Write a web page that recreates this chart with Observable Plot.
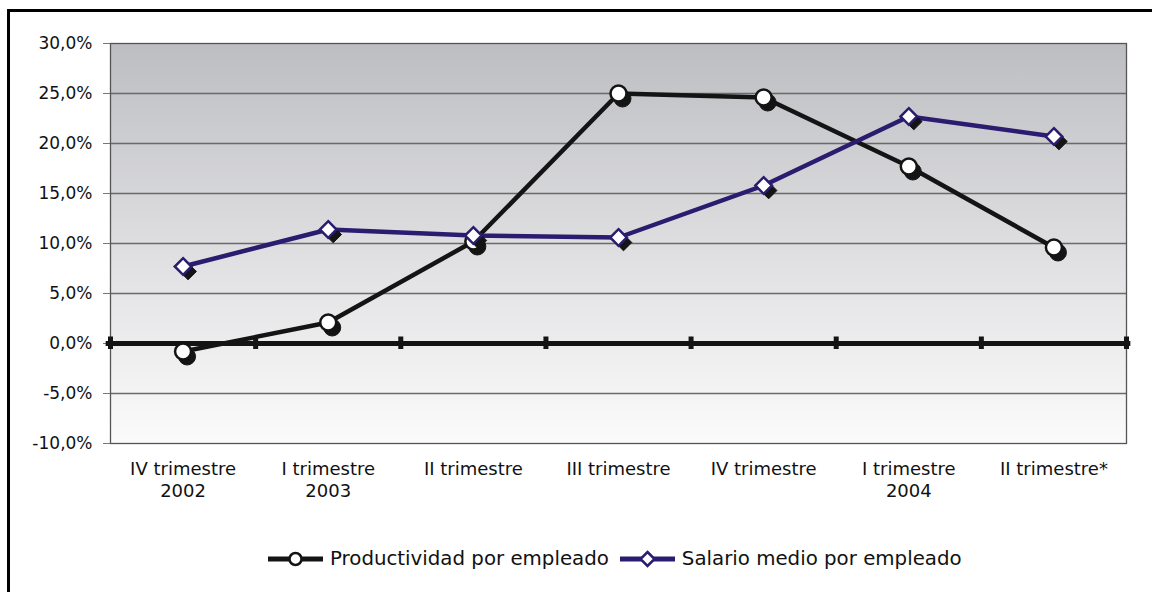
<!DOCTYPE html>
<html>
<head>
<meta charset="utf-8">
<script src="https://cdn.jsdelivr.net/npm/d3@7"></script>
<script src="https://cdn.jsdelivr.net/npm/@observablehq/plot@0.6"></script>
<style>
  html, body { margin: 0; padding: 0; background: #fff; overflow: hidden; width: 1152px; height: 592px; }
  #border { position: absolute; left: 7px; top: 9px; width: 1300px; height: 800px; border: 3px solid #000; box-sizing: border-box; }
  #chart { position: absolute; left: 0; top: 0; }
  #legend { position: absolute; left: 268px; top: 547px; display: flex; align-items: center; font-family: "DejaVu Sans", sans-serif; font-size: 19.8px; color: #111; white-space: nowrap; }
  #legend .item { display: flex; align-items: center; margin-right: 11px; }
  #legend svg { margin-right: 7px; }
</style>
</head>
<body>
<div id="border"></div>
<div id="chart"></div>
<div id="legend"></div>
<script>
const categories = ["IV trimestre\n2002", "I trimestre\n2003", "II trimestre", "III trimestre", "IV trimestre", "I trimestre\n2004", "II trimestre*"];
const productividad = [-0.8, 2.1, 10.2, 25.0, 24.6, 17.7, 9.6];
const salario = [7.7, 11.4, 10.8, 10.6, 15.8, 22.7, 20.7];
const yTicks = [-10, -5, 0, 5, 10, 15, 20, 25, 30];
const seriesNames = ["Productividad por empleado", "Salario medio por empleado"];

const black = "#141414";
const navy = "#2b1c70";

const idx = d3.range(categories.length);
const bounds = d3.range(categories.length + 1).map(i => i - 0.5);
const prodData = idx.map(i => ({i, v: productividad[i]}));
const salData = idx.map(i => ({i, v: salario[i]}));

const chart = Plot.plot({
  width: 1152,
  height: 520,
  marginTop: 43,
  marginLeft: 110,
  marginRight: 26,
  marginBottom: 77,
  style: { fontFamily: "DejaVu Sans, sans-serif", color: "#111", background: "transparent" },
  x: { type: "linear", domain: [-0.5, categories.length - 0.5] },
  y: { domain: [-10, 30] },
  marks: [
    Plot.frame({ fill: "url(#bgGrad)", stroke: "none" }),
    Plot.ruleY(yTicks.filter(t => t !== 0 && t !== -10 && t !== 30), { stroke: "#6a6a6a", strokeWidth: 1.3 }),
    Plot.frame({ stroke: "#555", strokeWidth: 1.3 }),
    Plot.axisY(yTicks, { tickFormat: d => d.toFixed(1).replace(".", ",") + "%", tickSize: 7, tickPadding: 11, stroke: "#777", fontSize: 17, label: null }),
    Plot.axisX(idx, { tickFormat: i => categories[i], tickSize: 0, tickPadding: 17, fontSize: 18, lineHeight: 1.17, label: null }),
    Plot.ruleY([0], { x1: -0.53, x2: categories.length - 0.47, stroke: black, strokeWidth: 5 }),
    Plot.ruleX(bounds, { y1: -0.6, y2: 0.65, stroke: black, strokeWidth: 5 }),
    // Productividad
    Plot.line(prodData, { x: "i", y: "v", stroke: black, strokeWidth: 4.5 }),
    Plot.dot(prodData, { x: "i", y: "v", r: 8.5, fill: black, stroke: black, strokeWidth: 1, dx: 4, dy: 5 }),
    Plot.dot(prodData, { x: "i", y: "v", r: 8, fill: "white", stroke: black, strokeWidth: 2.5 }),
    // Salario
    Plot.line(salData, { x: "i", y: "v", stroke: navy, strokeWidth: 4.5 }),
    Plot.dot(salData, { x: "i", y: "v", symbol: "diamond2", r: 7.5, fill: black, stroke: black, strokeWidth: 1, dx: 5, dy: 5 }),
    Plot.dot(salData, { x: "i", y: "v", symbol: "diamond2", r: 7.5, fill: "white", stroke: navy, strokeWidth: 2.5 })
  ]
});

const defs = d3.select(chart).insert("defs", ":first-child");
const grad = defs.append("linearGradient").attr("id", "bgGrad").attr("x1", 0).attr("y1", 0).attr("x2", 0).attr("y2", 1);
grad.append("stop").attr("offset", "0%").attr("stop-color", "#bdbec2");
grad.append("stop").attr("offset", "60%").attr("stop-color", "#e4e4e6");
grad.append("stop").attr("offset", "100%").attr("stop-color", "#fbfbfb");

document.getElementById("chart").appendChild(chart);

// Legend
const legend = d3.select("#legend");
const styles = [
  { stroke: black, symbol: "circle" },
  { stroke: navy, symbol: "diamond" }
];
seriesNames.forEach((name, k) => {
  const item = legend.append("div").attr("class", "item");
  const sw = item.append("svg").attr("width", 55).attr("height", 20);
  sw.append("line").attr("x1", 0).attr("x2", 55).attr("y1", 10).attr("y2", 10)
    .attr("stroke", styles[k].stroke).attr("stroke-width", 5);
  if (styles[k].symbol === "circle") {
    sw.append("circle").attr("cx", 27.5).attr("cy", 10).attr("r", 6)
      .attr("fill", "white").attr("stroke", styles[k].stroke).attr("stroke-width", 2.5);
  } else {
    sw.append("path").attr("d", "M27.5,3L34.5,10L27.5,17L20.5,10Z")
      .attr("fill", "white").attr("stroke", styles[k].stroke).attr("stroke-width", 2.5);
  }
  item.append("span").text(name);
});
</script>
</body>
</html>
